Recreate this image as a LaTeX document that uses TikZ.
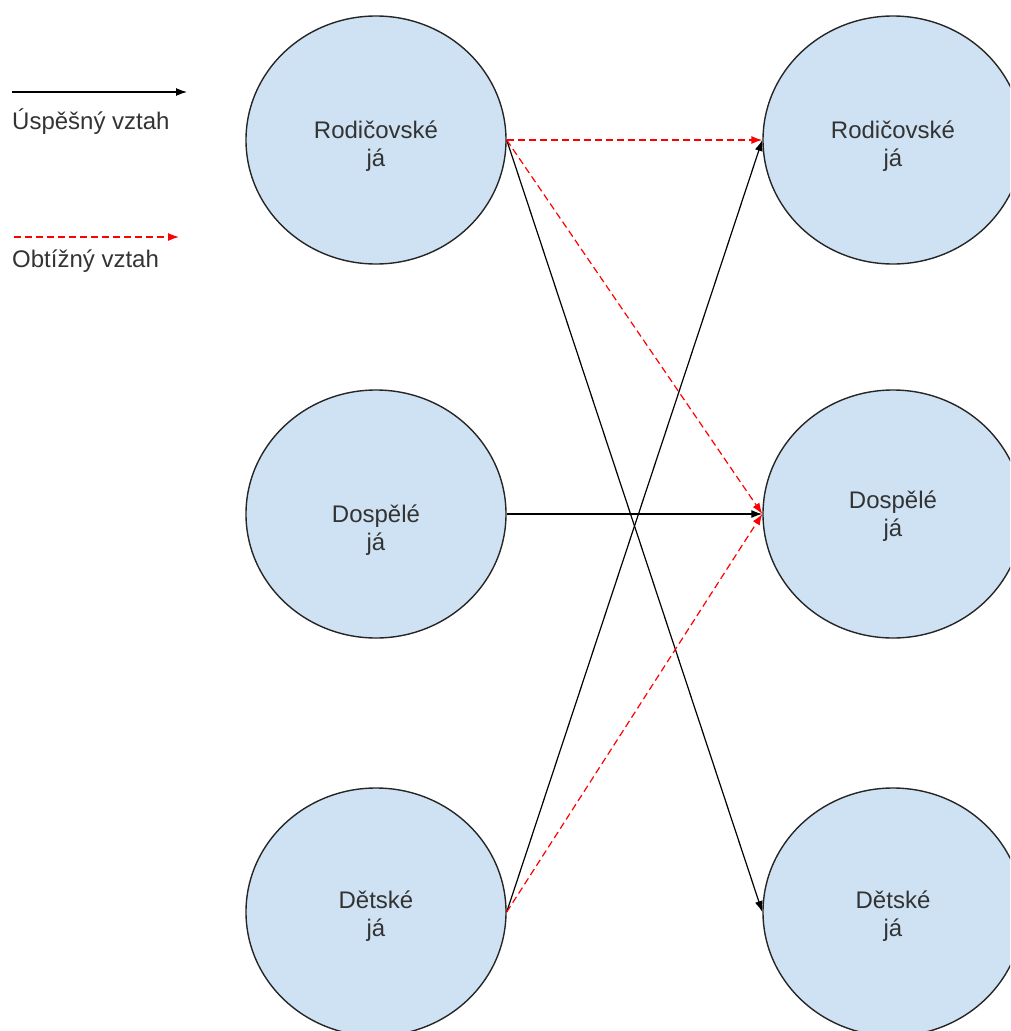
\documentclass[tikz,border=0pt]{standalone}
\usepackage{fontspec}
\setmainfont{Liberation Sans}
\usetikzlibrary{shapes.geometric,arrows.meta}

\definecolor{jafill}{HTML}{CFE2F3}

\begin{document}
\begin{tikzpicture}[x=1pt,y=-1pt,
  ja/.style={ellipse,draw=black!85,line width=1.4pt,fill=jafill,
    minimum width=260pt,minimum height=248pt,inner sep=0pt},
  jatext/.style={align=center,inner sep=0pt,text=black!80,font=\fontsize{24}{27.5}\selectfont},
  ok/.style={line width=1.2pt,-{Latex[length=11pt,width=8pt]}},
  bad/.style={red,line width=1.2pt,dash pattern=on 7pt off 4pt,-{Latex[length=11pt,width=8pt]}},
  legtext/.style={anchor=base west,inner sep=0pt,text=black!80,font=\fontsize{24}{27.5}\selectfont}]
  \clip (0,0) rectangle (1010,1031);

  % legend
  \coordinate (ok-a) at (12,92);
  \coordinate (ok-b) at (187,92);
  \coordinate (bad-a) at (14,237);
  \coordinate (bad-b) at (179,237);
  \draw[ok] (ok-a) -- (ok-b);
  \node[legtext] (ok-t) at (12,129) {Úspěšný vztah};
  \draw[bad] (bad-a) -- (bad-b);
  \node[legtext] (bad-t) at (12,267) {Obtížný vztah};

  % the three "já" on both sides
  \foreach \n/\y/\t/\sl/\sr in {rod/140/Rodičovské/6/6,dos/514/Dospělé/16/2,det/912/Dětské/4/4}
  {
    \node[ja,label={[jatext,yshift=-\sl pt]center:{\t\\já}}] (\n-l) at (376,\y) {};
    \node[ja,label={[jatext,yshift=-\sr pt]center:{\t\\já}}] (\n-r) at (893,\y) {};
  }

  \draw[ok] (rod-l.east) -- (det-r.west);
  \draw[ok] (det-l.east) -- (rod-r.west);
  \draw[ok] (dos-l.east) -- (dos-r.west);
  \draw[bad] (rod-l.east) -- (rod-r.west);
  \draw[bad] (rod-l.east) -- (dos-r.west);
  \draw[bad] (det-l.east) -- (dos-r.west);
\end{tikzpicture}
\end{document}
